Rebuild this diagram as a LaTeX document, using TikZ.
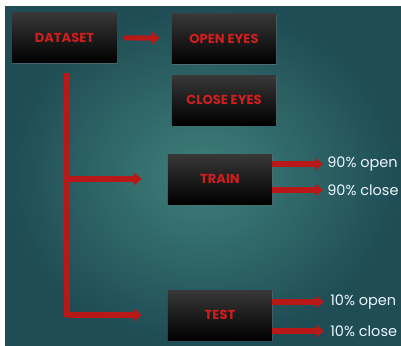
\documentclass[tikz,border=0pt]{standalone}
\usepackage{fontspec}
\setmainfont{Poppins}
\usetikzlibrary{arrows.meta,shadows}
\definecolor{bgdark}{HTML}{1F4C55}
\definecolor{bglight}{HTML}{3F807A}
\definecolor{boxred}{HTML}{D01E1E}
\definecolor{arrred}{HTML}{B81818}
\tikzset{
  box/.style={draw=none, top color=black!78, bottom color=black, minimum width=2.6cm,
    minimum height=1.25cm, inner sep=0pt, text=boxred, font=\bfseries\fontsize{9.3}{11}\selectfont,
    drop shadow={opacity=0.45, shadow xshift=0.6pt, shadow yshift=-0.8pt}},
  lbl/.style={anchor=west, inner sep=0pt, text=white!92!cyan, font=\fontsize{10.3}{12}\selectfont},
  arr/.style={draw=arrred, line width=3.6pt, -{Triangle[length=5.5pt, width=8.5pt]}},
  trunk/.style={draw=arrred, line width=4.2pt}
}
\begin{document}
\begin{tikzpicture}[x=0.025cm, y=-0.025cm]
\useasboundingbox (0,0) rectangle (401,345);
% background
\fill[white] (0,0) rectangle (401,345);
\shade[inner color=bglight, outer color=bgdark] (5,6) rectangle (401,345);
% nodes
\node[box] (dataset) at (64.5, 37.5) {DATASET};
\node[box] (open) at (224, 38.5) {OPEN EYES};
\node[box] (close) at (224, 100) {CLOSE EYES};
\node[box] (train) at (220, 179) {TRAIN};
\node[box] (test) at (220, 315) {TEST};
\node[lbl] (open90) at (327, 164) {90\% open};
\node[lbl] (close90) at (327, 190) {90\% close};
\node[lbl] (open10) at (330, 302) {10\% open};
\node[lbl] (close10) at (330, 331) {10\% close};
\coordinate (top) at (67, 73);
\coordinate (bot) at (67, 317);
% arrows
\draw[arr, shorten <=0.17cm, shorten >=0.3cm] (dataset) -- (open);
\draw[trunk] (top) -- (bot);
\draw[arr, shorten >=0.65cm] (top |- train) -- (train);
\draw[arr, shorten >=0.65cm] (top |- test) -- (test);
\draw[arr, shorten >=0.1cm] (train.east |- open90.west) -- (open90.west);
\draw[arr, shorten >=0.1cm] (train.east |- close90.west) -- (close90.west);
\draw[arr, shorten >=0.15cm] (test.east |- open10.west) -- (open10.west);
\draw[arr, shorten >=0.15cm] (test.east |- close10.west) -- (close10.west);
\end{tikzpicture}
\end{document}
